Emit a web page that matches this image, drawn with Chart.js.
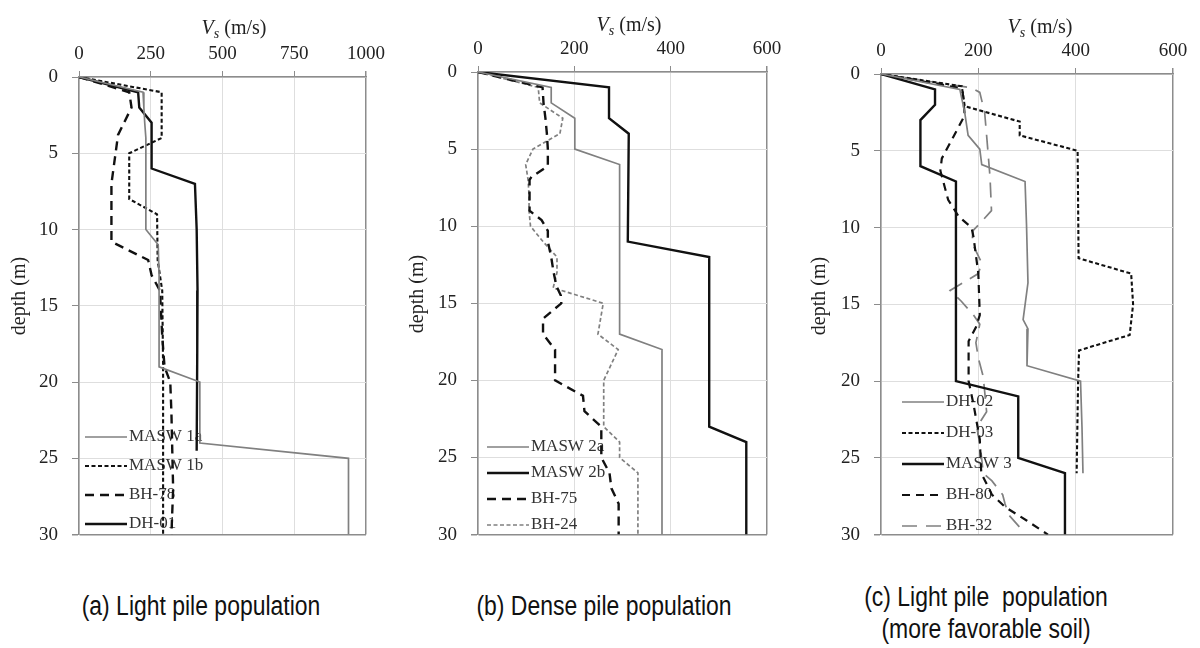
<!DOCTYPE html>
<html>
<head>
<meta charset="utf-8">
<script src="https://cdn.jsdelivr.net/npm/chart.js@4.4.1/dist/chart.umd.min.js"></script>
<style>
  body { margin: 0; background: #fff; width: 1200px; height: 648px; position: relative; overflow: hidden; }
  .panel { position: absolute; top: 0; width: 400px; height: 560px; }
  .cap { position: absolute; width: 360px; text-align: center; white-space: nowrap; color: #111;
         font-family: "Liberation Sans", Arial, sans-serif; font-size: 27px; line-height: 31px;
         transform: scaleX(0.85); transform-origin: center; }
</style>
</head>
<body>
<div class="panel" style="left:0"><canvas id="chartA" width="400" height="560"></canvas></div>
<div class="panel" style="left:400px"><canvas id="chartB" width="400" height="560"></canvas></div>
<div class="panel" style="left:800px"><canvas id="chartC" width="400" height="560"></canvas></div>
<div class="cap" style="left:21px; top:591px">(a) Light pile population</div>
<div class="cap" style="left:424px; top:591px">(b) Dense pile population</div>
<div class="cap" style="left:806px; top:582px">(c) Light pile&nbsp; population</div>
<div class="cap" style="left:806px; top:614px">(more favorable soil)</div>
<script>
const SERIF = "'Liberation Serif', 'Times New Roman', Times, serif";
const BLACK = '#111111';
const GRAY = '#808080';
const AXIS = '#8c8c8c';
const GRID = '#dedede';

// tick values
const depthTicks = [0, 5, 10, 15, 20, 25, 30];
const vsTicksA = [0, 250, 500, 750, 1000];
const vsTicksBC = [0, 200, 400, 600];

// profiles as [Vs (m/s), depth (m)]
// (a) light pile population
const masw1a = [[0,0],[223,1],[226,2],[229,3],[233,4],[233,10],[276,11],[279,13],[279,19],[421,20],[421,24],[939,25],[939,30]];
const masw1b = [[0,0],[288,1],[288,4],[175,5],[175,8],[272,9],[274,12],[282,13],[290,14],[293,19],[293,30]];
const bh78 = [[0,0],[175,1],[183,2],[136,3.8],[113,7],[113,10.8],[241,12],[253,13],[282,14],[290,17],[298,19],[318,20],[322,22],[328,27],[322,30]];
const dh01 = [[0,0],[206,1],[210,2],[253,3],[253,6],[404,7],[410,10],[413,14],[412,18],[410,24.5]];

// (b) dense pile population
const masw2a = [[0,0],[152,1],[152,2],[201,3],[201,5],[294,6],[294,17],[382,18],[382,30]];
const masw2b = [[0,0],[272,1],[272,3],[313,4],[311,11],[480,12],[480,23],[557,24],[557,30]];
const bh75 = [[0,0],[134,1],[136,2],[140,3],[143,4],[145,5],[145,6.1],[111,6.8],[107,7],[107,9],[132,9.6],[145,10.3],[145,11],[152,12],[157,13],[163,13.9],[172,14.5],[173,15],[135,16],[135,17],[160,18],[160,20],[218,21],[221,22],[256,23],[256,25],[273,26],[277,27],[292,28],[292,30]];
const bh24 = [[0,0],[125,1],[128,2],[176,3],[170,4],[114,5],[99,6],[104,7],[106,8],[106,9],[109,10],[135,11],[164,12],[164,13],[156,14],[260,15],[249,17],[291,18],[261,20],[261,23],[294,24],[294,25],[332,26],[332,30]];

// (c) light pile population, more favorable soil
const dh02 = [[0,0],[162,1],[172,2.5],[179,4],[203,4.9],[207,5.9],[296,7],[299,9.8],[302,13.6],[292,16],[302,16.6],[300,19],[410,20],[413,23],[415,26]];
const dh03 = [[0,0],[166,0.8],[172,2.1],[285,3.1],[285,4],[404,5],[406,12],[514,13],[518,15],[511,17],[407,18],[405,20],[402,26]];
const masw3 = [[0,0],[111,1],[111,2],[81,3],[81,6],[154,7],[154,20],[282,21],[282,25],[378,26],[378,30]];
const bh80 = [[0,0],[160,0.9],[168,1.2],[172,2.7],[125,5.5],[122,6.3],[138,8.2],[160,9.3],[186,10],[190,10.6],[200,13],[203,15.7],[195,16.5],[180,17.4],[180,20],[190,21.5],[203,23.8],[206,26],[228,27.4],[255,28.2],[300,29.1],[343,30]];
const bh32 = [[0,0],[186,0.9],[203,1.2],[213,2.5],[217,4],[224,6.7],[227,8.9],[207,9.6],[189,10.2],[187,11],[207,12.3],[200,13],[142,14.1],[165,14.8],[190,15.7],[203,16.3],[195,17.5],[200,18.5],[210,19.7],[214,21],[217,22],[197,23],[205,24.5],[210,26],[228,26.5],[250,27.4],[255,28],[262,28.7],[290,29.7]];

function series(label, pts, color, width, dash) {
  return {
    label: label,
    data: pts.map(p => ({x: p[0], y: p[1]})),
    borderColor: color,
    borderWidth: width,
    borderDash: dash,
    showLine: true,
    pointRadius: 0,
    fill: false
  };
}

// axis titles and in-plot legend
const panelText = {
  id: 'panelText',
  beforeDatasetsDraw(chart, args, o) {
    const ctx = chart.ctx;
    ctx.save();
    chart.data.datasets.forEach((ds, i) => {
      const y = o.legendY + i * o.legendGap;
      ctx.beginPath();
      ctx.setLineDash(ds.borderDash || []);
      ctx.strokeStyle = ds.borderColor;
      ctx.lineWidth = ds.borderWidth;
      ctx.moveTo(o.legendX, y);
      ctx.lineTo(o.legendX + 42, y);
      ctx.stroke();
      ctx.setLineDash([]);
      ctx.font = '17px ' + SERIF;
      ctx.fillStyle = '#333';
      ctx.textAlign = 'left';
      ctx.textBaseline = 'middle';
      ctx.fillText(ds.label, o.legendX + 44, y);
    });
    ctx.restore();
  },
  afterDraw(chart, args, o) {
    const ctx = chart.ctx;
    ctx.save();
    ctx.fillStyle = '#222';
    ctx.textAlign = 'left';
    ctx.textBaseline = 'alphabetic';
    ctx.font = 'italic 20px ' + SERIF;
    const wV = ctx.measureText('V').width;
    ctx.font = 'italic 14px ' + SERIF;
    const wS = ctx.measureText('s').width;
    ctx.font = '20px ' + SERIF;
    const wR = ctx.measureText(' (m/s)').width;
    let x = o.titleX - (wV + wS + wR) / 2;
    ctx.font = 'italic 20px ' + SERIF;
    ctx.fillText('V', x, o.titleY);
    x += wV;
    ctx.font = 'italic 14px ' + SERIF;
    ctx.fillText('s', x, o.titleY + 4);
    x += wS;
    ctx.font = '20px ' + SERIF;
    ctx.fillText(' (m/s)', x, o.titleY);

    ctx.translate(o.depthX, o.depthY);
    ctx.rotate(-Math.PI / 2);
    ctx.textAlign = 'center';
    ctx.textBaseline = 'middle';
    ctx.font = '20px ' + SERIF;
    ctx.fillText('depth (m)', 0, 0);
    ctx.restore();
  }
};

function makePanel(id, geo, xTicks, datasets, text) {
  const xMax = xTicks[xTicks.length - 1];
  const yMax = depthTicks[depthTicks.length - 1];
  return new Chart(document.getElementById(id), {
    type: 'scatter',
    data: {datasets: datasets},
    options: {
      responsive: false,
      animation: false,
      layout: {padding: {left: 0, top: 0, right: 400 - geo.right, bottom: 560 - geo.bottom}},
      plugins: {legend: {display: false}, tooltip: {enabled: false}, panelText: text},
      scales: {
        x: {
          type: 'linear',
          position: 'top',
          min: 0,
          max: xMax,
          afterBuildTicks: s => { s.ticks = xTicks.map(v => ({value: v})); },
          afterFit: s => { s.height = geo.top; },
          border: {color: AXIS, width: 1.5},
          grid: {
            color: c => (c.tick && c.tick.value === xMax ? AXIS : GRID),
            lineWidth: c => (c.tick && c.tick.value === xMax ? 1.5 : 1),
            tickColor: AXIS,
            tickLength: 6
          },
          ticks: {font: {family: SERIF, size: 19}, color: '#222', padding: 6, maxRotation: 0, callback: v => String(v)}
        },
        y: {
          type: 'linear',
          reverse: true,
          min: 0,
          max: yMax,
          afterBuildTicks: s => { s.ticks = depthTicks.map(v => ({value: v})); },
          afterFit: s => { s.width = geo.left; },
          border: {color: AXIS, width: 1.5},
          grid: {
            color: c => (c.tick && c.tick.value === yMax ? AXIS : GRID),
            lineWidth: c => (c.tick && c.tick.value === yMax ? 1.5 : 1),
            tickColor: AXIS,
            tickLength: 7
          },
          ticks: {font: {family: SERIF, size: 19}, color: '#222', padding: 14, callback: v => String(v)}
        }
      }
    },
    plugins: [panelText]
  });
}

makePanel('chartA', {left: 79, top: 77, right: 366, bottom: 547}, vsTicksA, [
  series('MASW 1a', masw1a, GRAY, 1.7),
  series('MASW 1b', masw1b, BLACK, 2.1, [4, 2.5]),
  series('BH-78', bh78, BLACK, 2.4, [9, 6]),
  series('DH-01', dh01, BLACK, 2.4)
], {titleX: 234, titleY: 34, depthX: 20, depthY: 296, legendX: 85, legendY: 437, legendGap: 29});

makePanel('chartB', {left: 78, top: 72, right: 367, bottom: 543}, vsTicksBC, [
  series('MASW 2a', masw2a, GRAY, 1.7),
  series('MASW 2b', masw2b, BLACK, 2.4),
  series('BH-75', bh75, BLACK, 2.4, [9, 6]),
  series('BH-24', bh24, GRAY, 1.7, [4, 2.5])
], {titleX: 229, titleY: 31, depthX: 18, depthY: 294, legendX: 87, legendY: 447, legendGap: 26});

makePanel('chartC', {left: 81, top: 74, right: 373, bottom: 543}, vsTicksBC, [
  series('DH-02', dh02, GRAY, 1.7),
  series('DH-03', dh03, BLACK, 2.1, [4, 2.5]),
  series('MASW 3', masw3, BLACK, 2.4),
  series('BH-80', bh80, BLACK, 2.2, [8, 6]),
  series('BH-32', bh32, GRAY, 1.7, [15, 9])
], {titleX: 240, titleY: 33, depthX: 20, depthY: 296, legendX: 102, legendY: 402, legendGap: 31});
</script>
</body>
</html>
